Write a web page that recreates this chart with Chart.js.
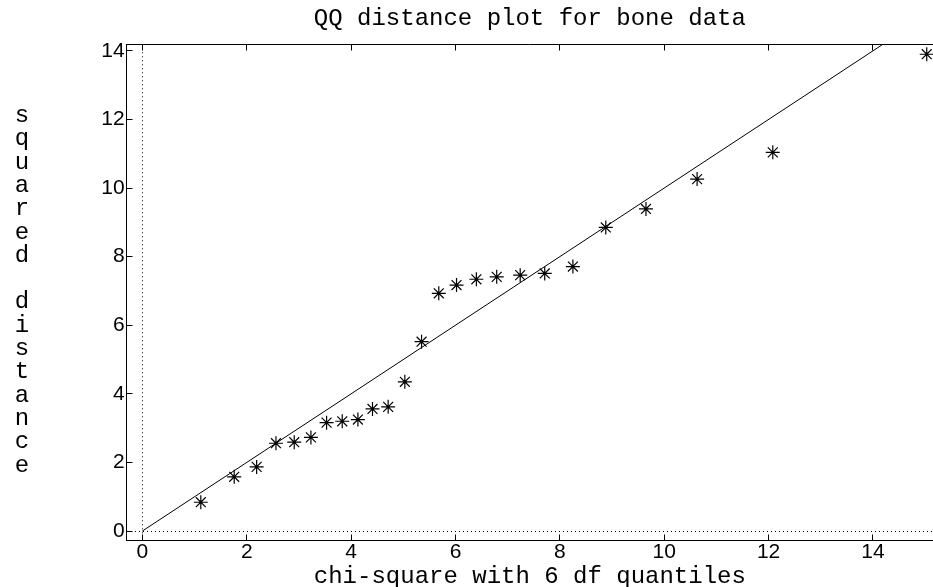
<!DOCTYPE html>
<html><head><meta charset="utf-8">
<script src="https://cdn.jsdelivr.net/npm/chart.js@4/dist/chart.umd.min.js"></script>
<style>html,body{margin:0;padding:0;background:#fff}#wrap{width:933px;height:587px;position:relative}</style>
</head><body><div id="wrap"><canvas id="c"></canvas></div>
<script>
// ---- data ----
const titleText = 'QQ distance plot for bone data';
const xTitle = 'chi-square with 6 df quantiles';
const yTitle = 'squared distance';
const chiQuantiles = [1.12, 1.76, 2.19, 2.56, 2.91, 3.23, 3.53, 3.83, 4.13, 4.41, 4.71, 5.03, 5.35, 5.68, 6.02, 6.40, 6.79, 7.24, 7.71, 8.25, 8.88, 9.65, 10.63, 12.08, 15.03];
const sqDistances  = [0.84, 1.58, 1.87, 2.56, 2.59, 2.73, 3.16, 3.20, 3.25, 3.56, 3.62, 4.35, 5.52, 6.93, 7.17, 7.34, 7.41, 7.46, 7.51, 7.71, 8.85, 9.39, 10.26, 11.04, 13.90];
const refLineX = [0, 16];
const refLineY = [0, 16];
const xTickValues = [0, 2, 4, 6, 8, 10, 12, 14];
const yTickValues = [0, 2, 4, 6, 8, 10, 12, 14];
const xRange = [-0.30, 15.15];
const yRange = [-0.27, 14.19];

const MONO = "'Liberation Mono', 'DejaVu Sans Mono', monospace";
const SANS = "'Liberation Sans', Arial, sans-serif";

const zeroGrid = c => (c.tick && c.tick.value === 0) ? '#000' : 'rgba(0,0,0,0)';

const framePlugin = {
  id: 'frame',
  afterDraw(chart) {
    const ctx = chart.ctx, a = chart.chartArea;
    const xs = chart.scales.x, ys = chart.scales.y;
    const al = v => Math.round(v - 0.5) + 0.5;
    ctx.save();
    ctx.strokeStyle = '#000';
    ctx.lineWidth = 1;
    ctx.beginPath();
    const top = al(a.top), bot = al(a.bottom), left = al(a.left);
    ctx.moveTo(left, top); ctx.lineTo(a.right, top);
    xs.ticks.forEach(t => {
      const px = al(xs.getPixelForValue(t.value));
      ctx.moveTo(px, bot); ctx.lineTo(px, bot - 6);
      ctx.moveTo(px, top); ctx.lineTo(px, top + 6);
    });
    ys.ticks.forEach(t => {
      const py = al(ys.getPixelForValue(t.value));
      ctx.moveTo(left, py); ctx.lineTo(left + 6, py);
    });
    ctx.stroke();
    // vertical y-axis label, one letter per row
    ctx.fillStyle = '#000';
    ctx.font = '24px ' + MONO;
    ctx.textAlign = 'center';
    ctx.textBaseline = 'alphabetic';
    const letters = yTitle.split('');
    const y0 = 122, step = 23.3;
    letters.forEach((ch, i) => { if (ch !== ' ') ctx.fillText(ch, 22, y0 + i * step); });
    ctx.restore();
  }
};

new Chart(document.getElementById('c'), {
  type: 'scatter',
  data: {
    datasets: [
      {
        label: 'reference',
        data: refLineX.map((x, i) => ({x, y: refLineY[i]})),
        showLine: true,
        borderColor: '#000',
        borderWidth: 1,
        pointRadius: 0,
        fill: false
      },
      {
        label: 'squared distance',
        data: chiQuantiles.map((x, i) => ({x, y: sqDistances[i]})),
        pointStyle: 'star',
        pointRadius: 7,
        pointBorderWidth: 1.2,
        borderColor: '#000',
        backgroundColor: '#000'
      }
    ]
  },
  options: {
    responsive: true,
    maintainAspectRatio: false,
    animation: false,
    devicePixelRatio: 1,
    layout: { padding: 0, autoPadding: false },
    plugins: {
      legend: { display: false },
      tooltip: { enabled: false },
      title: {
        display: true,
        text: titleText,
        fullSize: false,
        color: '#000',
        font: { family: MONO, size: 24, weight: 'normal', lineHeight: 1.2 },
        padding: { top: 4, bottom: 11.5 }
      }
    },
    scales: {
      x: {
        type: 'linear',
        min: xRange[0], max: xRange[1],
        afterBuildTicks: s => { s.ticks = xTickValues.map(v => ({value: v})); },
        afterFit: s => { s.height = 46.7; },
        grid: { color: zeroGrid, drawTicks: false, lineWidth: 1 },
        border: { display: true, color: '#000', width: 1, dash: [1, 3] },
        ticks: { color: '#000', padding: 1, font: { family: SANS, size: 21, lineHeight: 1 } },
        title: { display: true, text: xTitle, color: '#000', padding: 0,
                 font: { family: MONO, size: 24, lineHeight: 0.9 } }
      },
      y: {
        type: 'linear',
        min: yRange[0], max: yRange[1],
        afterBuildTicks: s => { s.ticks = yTickValues.map(v => ({value: v})); },
        afterFit: s => { s.width = 126.7; },
        grid: { color: zeroGrid, drawTicks: false, lineWidth: 1 },
        border: { display: true, color: '#000', width: 1, dash: [1, 3] },
        ticks: { color: '#000', padding: 2, font: { family: SANS, size: 21, lineHeight: 1 } },
        title: { display: false }
      }
    }
  },
  plugins: [framePlugin]
});
</script>
</body></html>
